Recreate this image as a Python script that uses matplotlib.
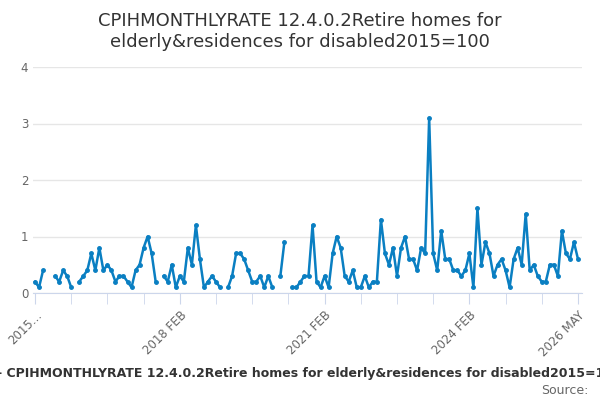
import matplotlib.pyplot as plt
import numpy as np

nan = np.nan
# monthly values, ending May 2026
values = [0.2, 0.1, 0.4, nan, nan, 0.3, 0.2, 0.4, 0.3, 0.1, nan,
          0.2, 0.3, 0.4, 0.7, 0.4, 0.8, 0.4, 0.5, 0.4, 0.2, 0.3, 0.3, 0.2, 0.1,
          0.4, 0.5, 0.8, 1.0, 0.7, 0.2, nan,
          0.3, 0.2, 0.5, 0.1, 0.3, 0.2, 0.8, 0.5, 1.2, 0.6, 0.1, 0.2, 0.3, 0.2, 0.1, nan,
          0.1, 0.3, 0.7, 0.7, 0.6, 0.4, 0.2, 0.2, 0.3, 0.1, 0.3, 0.1, nan,
          0.3, 0.9, nan,
          0.1, 0.1, 0.2, 0.3, 0.3, 1.2, 0.2, 0.1, 0.3, 0.1, 0.7, 1.0, 0.8, 0.3,
          0.2, 0.4, 0.1, 0.1, 0.3, 0.1, 0.2, 0.2, 1.3, 0.7, 0.5, 0.8,
          0.3, 0.8, 1.0, 0.6, 0.6, 0.4, 0.8, 0.7, 3.1, 0.7, 0.4, 1.1, 0.6, 0.6,
          0.4, 0.4, 0.3, 0.4, 0.7, 0.1, 1.5, 0.5, 0.9, 0.7, 0.3, 0.5, 0.6, 0.4,
          0.1, 0.6, 0.8, 0.5, 1.4, 0.4, 0.5, 0.3, 0.2, 0.2, 0.5, 0.5, 0.3, 1.1,
          0.7, 0.6, 0.9, 0.6]
tick_labels = ['2015…', '2018 FEB', '2021 FEB', '2024 FEB', '2026 MAY']

n = len(values)
months = np.arange(n)
end = n - 1  # May 2026
tick_pos = np.arange(end, -1, -9)[::-1]
label_pos = [end - 135, end - 99, end - 63, end - 27, end]

fig, ax = plt.subplots(figsize=(6, 4), dpi=100)
fig.subplots_adjust(left=0.055, right=0.97, top=0.8325, bottom=0.2675)
c = '#0a7fc2'
ax.plot(months, values, color=c, lw=1.8, marker='o', ms=2.5)
ax.set_ylim(0, 4.0)
ax.set_xlim(-0.5, end + 1)
ax.set_yticks([0, 1, 2, 3, 4])
ax.grid(axis='y', color='#e6e6e6', lw=1)
ax.set_axisbelow(True)
ax.set_xticks(tick_pos, minor=True)
ax.set_xticks(label_pos)
ax.set_xticklabels(tick_labels, rotation=45, ha='right', rotation_mode='anchor',
                   color='#666666', fontsize=8.5)
ax.tick_params(axis='x', which='both', color='#ccd6eb', length=8)
ax.tick_params(axis='y', length=0, labelcolor='#666666', labelsize=8.5)
for s in ['top', 'right', 'left']:
    ax.spines[s].set_visible(False)
ax.spines['bottom'].set_color('#ccd6eb')
fig.suptitle('CPIHMONTHLYRATE 12.4.0.2Retire homes for\nelderly&residences for disabled2015=100',
             fontsize=13, color='#333333', y=0.97)
fig.text(-0.005, 0.065, '- CPIHMONTHLYRATE 12.4.0.2Retire homes for elderly&residences for disabled2015=100',
         fontsize=9, weight='bold', color='#333333', va='center')
fig.text(0.98, 0.025, 'Source:', fontsize=9, color='#666666', ha='right', va='center')
fig.savefig('out.png')
